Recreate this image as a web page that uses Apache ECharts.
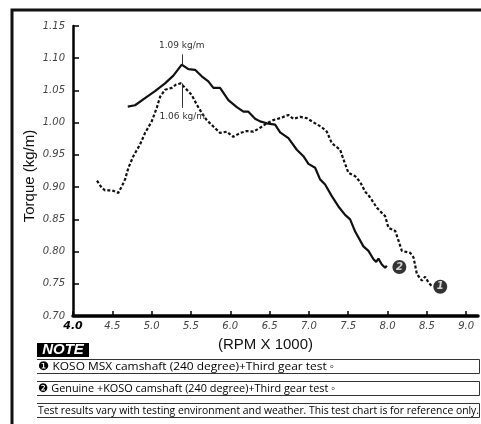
<!DOCTYPE html>
<html>
<head>
<meta charset="utf-8">
<script src="https://cdn.jsdelivr.net/npm/echarts@6/dist/echarts.min.js"></script>
<style>
html,body{margin:0;padding:0;background:#fff;}
#chart{width:481px;height:424px;}
</style>
</head>
<body>
<div id="chart"></div>
<script>
// ---- Data ----
// Series 1: KOSO MSX camshaft (dotted)
const rpmKoso = [4.305,4.365,4.407,4.496,4.576,4.620,4.662,4.704,4.767,4.852,4.916,5.001,5.065,5.107,5.170,5.256,5.310,5.370,5.425,5.510,5.574,5.637,5.701,5.785,5.870,5.955,6.039,6.125,6.210,6.294,6.379,6.464,6.548,6.634,6.739,6.803,6.888,6.973,7.079,7.164,7.228,7.291,7.397,7.439,7.503,7.588,7.651,7.715,7.779,7.864,7.927,7.969,8.011,8.097,8.139,8.182,8.288,8.330,8.373,8.436,8.478,8.520,8.564];
const torqueKoso = [0.910,0.899,0.895,0.895,0.891,0.901,0.912,0.930,0.948,0.966,0.984,1.002,1.023,1.040,1.051,1.054,1.059,1.061,1.054,1.043,1.028,1.015,1.004,0.994,0.984,0.986,0.978,0.984,0.987,0.986,0.992,0.999,1.004,1.007,1.012,1.006,1.009,1.007,0.999,0.993,0.986,0.968,0.958,0.943,0.922,0.917,0.908,0.893,0.884,0.868,0.860,0.855,0.837,0.832,0.817,0.801,0.798,0.791,0.765,0.755,0.761,0.752,0.746];
// Series 2: Genuine + KOSO camshaft (solid)
const rpmGenuine = [4.696,4.789,4.916,5.043,5.170,5.276,5.383,5.467,5.552,5.637,5.721,5.785,5.870,5.976,6.083,6.167,6.230,6.316,6.379,6.464,6.570,6.634,6.739,6.846,6.930,6.994,7.079,7.142,7.206,7.291,7.375,7.460,7.524,7.588,7.693,7.757,7.821,7.855,7.884,7.927,7.969,7.991];
const torqueGenuine = [1.025,1.027,1.038,1.049,1.061,1.073,1.090,1.083,1.082,1.072,1.064,1.054,1.054,1.035,1.024,1.017,1.017,1.006,1.002,0.999,0.997,0.985,0.976,0.958,0.948,0.936,0.930,0.912,0.904,0.886,0.870,0.857,0.850,0.831,0.808,0.801,0.788,0.784,0.789,0.780,0.775,0.778];
// Curve tags (data coordinates) and their numbers
const tagPositions = [[8.67,0.7455],[8.15,0.776]];
const tagNumbers = ['1','2'];
// Axis ticks
const xTicks = [4.0,4.5,5.0,5.5,6.0,6.5,7.0,7.5,8.0,8.5,9.0];
const yTicks = [0.70,0.75,0.80,0.85,0.90,0.95,1.00,1.05,1.10,1.15];
// Texts
const yTitle = 'Torque (kg/m)';
const xTitle = '(RPM X 1000)';
const noteTitle = 'NOTE';
const noteLines = [
  '\u2776 KOSO MSX camshaft (240 degree)+Third gear test \u25E6',
  '\u2777 Genuine +KOSO camshaft (240 degree)+Third gear test \u25E6',
  'Test results vary with testing environment and weather. This test chart is for reference only.'
];

// ---- helpers ----
function zip(a,b){return a.map((v,i)=>[v,b[i]]);}
function peak(xs,ys){let k=0;ys.forEach((v,i)=>{if(v>ys[k])k=i;});return [xs[k],ys[k]];}
const pkG = peak(rpmGenuine,torqueGenuine);
const pkK = peak(rpmKoso,torqueKoso);

const measureCtx = document.createElement('canvas').getContext('2d');
function fitScale(text,font,target){measureCtx.font=font;const w=measureCtx.measureText(text).width;return target/w;}

const legendFont = '11.5px "Open Sans"';
const noteBoxes = [[359,373],[381,395],[403,417]];
const noteTargets = [296,297,441];

const graphics = [
  {type:'rect',shape:{x:12,y:10,width:490,height:440},style:{fill:'none',stroke:'#111',lineWidth:3},z:0},
  {type:'rect',shape:{x:37,y:343,width:52,height:14},style:{fill:'#000'}},
  {type:'text',x:63,y:350,style:{text:noteTitle,fill:'#fff',font:'italic bold 15px "Liberation Sans"',align:'center',verticalAlign:'middle'}}
];
noteBoxes.forEach((b,i)=>{
  graphics.push({type:'polyline',shape:{points:[[37,b[0]+0.5],[479.5,b[0]+0.5],[479.5,b[1]+0.5],[37,b[1]+0.5]]},style:{fill:'none',stroke:'#333',lineWidth:1}});
  const s = fitScale(noteLines[i],legendFont,noteTargets[i]);
  graphics.push({type:'text',x:38,y:(b[0]+b[1])/2+1,scaleX:s,style:{text:noteLines[i],fill:'#000',font:legendFont,align:'left',verticalAlign:'middle'}});
});

const chart = echarts.init(document.getElementById('chart'),null,{renderer:'canvas'});
chart.setOption({
  animation:false,
  backgroundColor:'#fff',
  grid:{left:73,right:3,top:26,bottom:108,containLabel:false},
  xAxis:{
    type:'value',min:4,max:9.15,interval:0.5,
    axisLine:{show:true,lineStyle:{color:'#000',width:3.5}},
    axisTick:{show:true,inside:true,length:5,lineStyle:{color:'#000',width:1.5},customValues:xTicks},
    splitLine:{show:false},
    axisLabel:{customValues:xTicks,margin:5,color:'#444',fontSize:10,fontStyle:'italic',fontFamily:'DejaVu Sans',
      formatter:(v)=> v===xTicks[0] ? '{b|'+v.toFixed(1)+'}' : v.toFixed(1),
      rich:{b:{fontWeight:'bold',color:'#000',fontSize:11,fontStyle:'italic',fontFamily:'DejaVu Sans'}}},
    name:xTitle,nameLocation:'middle',nameGap:21,nameMoveOverlap:false,
    nameTextStyle:{fontFamily:'Liberation Sans',fontSize:15,color:'#111',padding:[0,20,0,0]}
  },
  yAxis:{
    type:'value',min:0.70,max:1.15,interval:0.05,
    axisLine:{show:true,lineStyle:{color:'#000',width:2.5}},
    axisTick:{show:true,inside:true,length:6,lineStyle:{color:'#000',width:1.5},customValues:yTicks},
    splitLine:{show:false},
    axisLabel:{customValues:yTicks,margin:8,color:'#444',fontSize:10,fontStyle:'italic',fontFamily:'DejaVu Sans',
      formatter:(v)=>v.toFixed(2)},
    name:yTitle,nameLocation:'middle',nameGap:36,nameMoveOverlap:false,
    nameTextStyle:{fontFamily:'Liberation Sans',fontSize:15,color:'#111',padding:[0,10,0,0]}
  },
  series:[
    {type:'line',name:'KOSO MSX',data:zip(rpmKoso,torqueKoso),showSymbol:false,symbol:'none',
      lineStyle:{color:'#111',width:2.2,type:[3,2]},z:3,
      markLine:{silent:true,symbol:['none','none'],animation:false,
        lineStyle:{color:'#333',width:1,type:'solid'},
        label:{show:true,position:'end',distance:4,formatter:pkK[1].toFixed(2)+' kg/m',color:'#333',fontSize:9,fontFamily:'DejaVu Sans'},
        data:[[{coord:[pkK[0]+0.02,pkK[1]]},{coord:[pkK[0]+0.02,pkK[1]-0.038]}]]}},
    {type:'line',name:'Genuine',data:zip(rpmGenuine,torqueGenuine),showSymbol:false,symbol:'none',
      lineStyle:{color:'#111',width:2.2,type:'solid'},z:3,
      markLine:{silent:true,symbol:['none','none'],animation:false,
        lineStyle:{color:'#333',width:1,type:'solid'},
        label:{show:true,position:'end',distance:4,formatter:pkG[1].toFixed(2)+' kg/m',color:'#333',fontSize:9,fontFamily:'DejaVu Sans'},
        data:[[{coord:[pkG[0],pkG[1]]},{coord:[pkG[0],pkG[1]+0.016]}]]}},
    {type:'scatter',data:tagPositions.map((p,i)=>({value:p,label:{formatter:tagNumbers[i]}})),
      symbol:'circle',symbolSize:14,itemStyle:{color:'#000'},z:5,
      label:{show:true,position:'inside',color:'#fff',fontSize:10,fontWeight:'bold',fontStyle:'italic',fontFamily:'DejaVu Sans'}}
  ],
  graphic:graphics
});
</script>
</body>
</html>
